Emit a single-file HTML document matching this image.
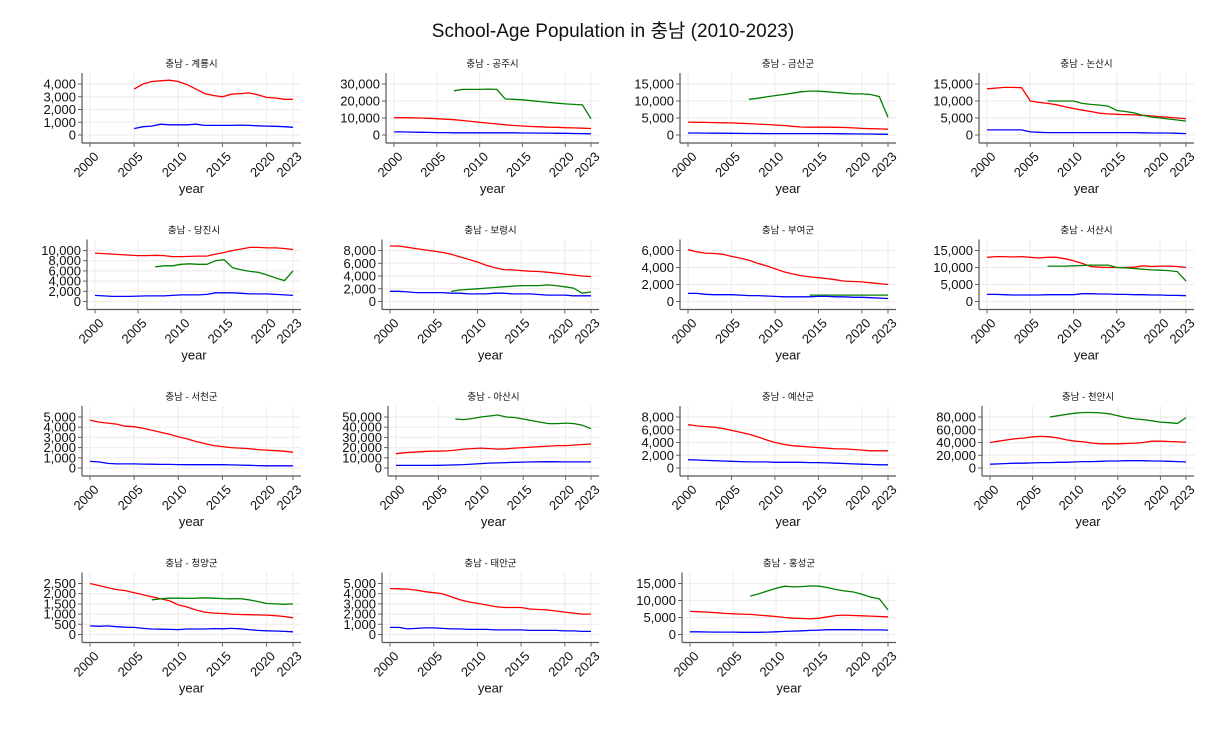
<!DOCTYPE html>
<html><head><meta charset="utf-8">
<style>
body{margin:0;background:#fff;}
svg text{font-family:"Liberation Sans","Noto Sans CJK KR",sans-serif;fill:#111;}
</style></head>
<body>
<svg id="chart" width="1226" height="726" xmlns="http://www.w3.org/2000/svg">
<text x="613" y="37" text-anchor="middle" font-size="19">School-Age Population in 충남 (2010-2023)</text>
</svg>
<script>
const years = [2000,2001,2002,2003,2004,2005,2006,2007,2008,2009,2010,2011,2012,2013,2014,2015,2016,2017,2018,2019,2020,2021,2022,2023];
const xTickLabels = [2000,2005,2010,2015,2020,2023];
const panelNames = ["계룡시","공주시","금산군","논산시","당진시","보령시","부여군","서산시","서천군","아산시","예산군","천안시","청양군","태안군","홍성군"];
const yTickMax = [4000,30000,15000,15000,10000,8000,6000,15000,5000,50000,8000,80000,2500,5000,15000];
const yTickStep = [1000,10000,5000,5000,2000,2000,2000,5000,1000,10000,2000,20000,500,1000,5000];
const redStart = [2005,2000,2000,2000,2000,2000,2000,2000,2000,2000,2000,2000,2000,2000,2000];
const blueStart = [2005,2000,2000,2000,2000,2000,2000,2000,2000,2000,2000,2000,2000,2000,2000];
const greenStart = [null,2007,2007,2007,2007,2007,2014,2007,null,2007,null,2007,2007,null,2007];
const redValues = [
[3600,4000,4200,4250,4300,4200,3950,3600,3250,3100,3000,3200,3250,3300,3150,2950,2900,2800,2800],
[10200,10200,10100,10000,9800,9600,9300,9000,8500,8000,7500,7000,6500,6000,5600,5300,5000,4800,4600,4500,4300,4200,4000,3800],
[3800,3750,3700,3650,3600,3550,3450,3350,3200,3100,2950,2800,2550,2350,2300,2300,2300,2250,2200,2100,1950,1850,1800,1700],
[13600,13800,14000,14000,13900,10000,9600,9300,8900,8300,7800,7300,6900,6400,6200,6100,6000,5900,5800,5600,5400,5200,5000,4800],
[9500,9400,9300,9200,9100,9000,9000,9050,9000,8800,8800,8850,8900,8900,9300,9600,10000,10300,10600,10600,10500,10500,10400,10200],
[8700,8700,8500,8300,8100,7900,7700,7400,7000,6600,6200,5700,5300,5000,4950,4850,4750,4700,4600,4450,4300,4150,4000,3900],
[6100,5850,5700,5650,5550,5300,5100,4850,4500,4200,3850,3500,3250,3050,2900,2800,2700,2550,2400,2350,2300,2200,2100,2000],
[13000,13200,13200,13100,13200,13000,12800,13000,13000,12600,12000,11200,10300,10100,10000,10000,10000,10100,10500,10300,10400,10400,10300,10000],
[4700,4500,4400,4300,4100,4050,3900,3700,3500,3300,3050,2850,2600,2400,2200,2100,2000,1950,1900,1800,1750,1700,1650,1550],
[14000,15000,15500,16000,16500,16500,16800,17500,18500,19000,19500,19000,18500,18800,19500,20000,20500,21000,21500,22000,22000,22500,23000,23500],
[6800,6600,6500,6400,6200,5900,5600,5300,4900,4400,4000,3700,3500,3400,3300,3200,3100,3000,3000,2900,2800,2700,2700,2700],
[40000,42000,44000,46000,47000,49000,49500,49000,47000,44000,42000,41000,39000,38000,38000,38000,38500,39000,40000,42000,42000,41500,41000,40500],
[2500,2400,2300,2200,2150,2050,1950,1850,1750,1650,1450,1350,1200,1100,1050,1030,1000,980,970,960,950,920,880,820],
[4500,4480,4450,4350,4200,4100,4000,3700,3400,3200,3050,2900,2750,2650,2650,2650,2500,2450,2400,2300,2200,2100,2000,2000],
[6800,6700,6600,6400,6200,6100,6000,5900,5700,5500,5300,5000,4800,4700,4600,4800,5200,5600,5700,5600,5500,5400,5300,5200]
];
const blueValues = [
[500,650,700,850,800,800,800,850,750,750,750,750,780,750,720,700,680,650,600],
[1800,1800,1700,1600,1500,1400,1400,1300,1300,1300,1300,1300,1300,1300,1300,1200,1200,1100,1100,1000,1000,900,800,700],
[600,580,560,540,520,500,480,450,430,420,400,400,400,400,400,400,400,380,350,330,300,280,250,200],
[1500,1500,1500,1500,1500,900,800,700,700,700,700,700,700,700,700,700,700,700,650,600,600,600,500,400],
[1200,1100,1000,1000,1000,1050,1100,1100,1100,1200,1300,1300,1300,1400,1700,1700,1700,1600,1500,1500,1500,1400,1300,1200],
[1600,1600,1500,1400,1400,1400,1400,1300,1300,1200,1200,1200,1300,1300,1200,1200,1200,1100,1000,1000,1000,900,900,900],
[950,950,850,800,800,800,750,700,700,650,600,550,550,550,550,600,600,550,550,500,500,450,400,350],
[2100,2100,2000,1900,1900,1900,1900,2000,2000,2000,2000,2300,2300,2200,2200,2100,2100,2000,2000,1900,1900,1800,1800,1700],
[650,600,450,400,400,400,380,370,350,350,330,320,320,320,320,320,300,280,260,240,220,220,220,220],
[2500,2500,2500,2500,2500,2600,2800,3000,3300,3800,4300,4800,5000,5300,5600,5800,6000,6100,6200,6100,6000,6000,6000,6000],
[1300,1250,1200,1150,1100,1050,1000,950,950,950,900,900,900,900,850,850,800,750,700,650,600,550,500,500],
[6000,6500,7000,7500,7500,8000,8500,8500,9000,9000,9500,10000,10000,10500,11000,11000,11500,11500,11500,11000,11000,10500,10000,9500],
[420,400,420,380,360,350,300,270,260,250,240,270,270,270,290,280,300,280,240,200,180,170,150,130],
[700,700,550,600,650,650,600,550,550,500,500,500,450,450,450,450,400,400,400,400,350,350,300,300],
[800,800,750,700,700,700,650,650,650,700,800,900,1000,1100,1200,1300,1400,1400,1400,1400,1350,1350,1350,1300]
];
const greenValues = [
[],
[26000,26800,26800,26800,27000,26800,21200,21000,20700,20200,19700,19200,18700,18300,18000,17700,9500],
[10500,10800,11200,11600,11900,12300,12700,12900,12900,12700,12500,12300,12100,12100,11900,11300,5200],
[10000,10000,10000,10000,9300,9000,8800,8500,7200,6900,6500,5800,5300,5000,4700,4400,4100],
[6800,7000,7000,7300,7400,7300,7300,8000,8200,6600,6200,5900,5700,5200,4600,4100,6000],
[1600,1800,1900,2000,2100,2200,2300,2400,2500,2500,2500,2600,2500,2300,2100,1300,1500],
[750,750,750,750,750,750,750,750,750,750],
[10400,10400,10400,10500,10600,10700,10700,10700,10000,9900,9700,9500,9300,9200,9100,8800,6000],
[],
[48000,47500,48500,50000,51000,52000,50000,49500,48000,46500,45000,43500,43500,44000,43500,42000,38500],
[],
[80000,82000,84000,86000,87000,87000,86500,85000,82000,79000,77000,76000,74000,72000,71000,70000,79000],
[1700,1750,1780,1780,1770,1780,1800,1780,1760,1750,1760,1700,1620,1520,1500,1480,1500],
[],
[11300,12000,12800,13600,14200,14000,14100,14300,14200,13800,13200,12800,12500,11800,11000,10500,7200]
];

const svg = document.getElementById('chart');
const NS = 'http://www.w3.org/2000/svg';
const rowBottoms = [143,309.5,476,642.5];
const colRight = [293,591,888,1186];
const leftByPanel = [90,394,688,987, 95,390,688,987, 90,396,688,990, 90,390,690];
function mk(tag, attrs, parent){
  const e = document.createElementNS(NS, tag);
  for (const k in attrs) e.setAttribute(k, attrs[k]);
  (parent||svg).appendChild(e);
  return e;
}
panelNames.forEach((name, i) => {
  const r = Math.floor(i/4), c = i%4;
  const bottom = rowBottoms[r];
  const x0 = leftByPanel[i], x1 = colRight[c];
  const y0 = bottom - 8, yTop = bottom - 59;
  const top = bottom - 70;
  const xs = y => x0 + (y - 2000) * (x1 - x0) / 23;
  const ys = v => y0 - v * (y0 - yTop) / yTickMax[i];
  const g = mk('g', {});
  
  
  // grid
  for (const t of xTickLabels) {
    const l = mk('line', {x1: xs(t), x2: xs(t), y1: top, y2: bottom, stroke: '#eeeeee', 'stroke-width': 1.2}, g);
    
    
  }
  for (let v = 0; v <= yTickMax[i]; v += yTickStep[i]) {
    const l = mk('line', {x1: x0 - 8, x2: x1 + 8, y1: ys(v), y2: ys(v), stroke: '#eeeeee', 'stroke-width': 1.2}, g);
    
    
    const tk = mk('line', {x1: x0 - 12, x2: x0 - 8, y1: ys(v), y2: ys(v), stroke: '#666'}, g);
    
    
    const tl = mk('text', {x: x0 - 14, y: ys(v) + 4.5, 'text-anchor': 'end', 'font-size': 13}, g);
    tl.textContent = v.toLocaleString('en-US');
    
    
  }
  // axes
  const ya = mk('line', {x1: x0 - 8, x2: x0 - 8, y1: top, y2: bottom, stroke: '#555', 'stroke-width': 1.2}, g);
  
  
  const xa = mk('line', {x1: x0 - 8, x2: x1 + 8, y1: bottom, y2: bottom, stroke: '#555', 'stroke-width': 1.2}, g);
  
  
  for (const t of xTickLabels) {
    const tk = mk('line', {x1: xs(t), x2: xs(t), y1: bottom, y2: bottom + 4, stroke: '#666'}, g);
    
    
    const tx = xs(t) + 3, ty = bottom + 8;
    const tl = mk('text', {x: tx, y: ty, 'text-anchor': 'end', 'font-size': 13, transform: 'rotate(-45 ' + tx + ' ' + ty + ')', dy: '0.7em'}, g);
    tl.textContent = t;
    
    
  }
  const xt = mk('text', {x: (x0 + x1) / 2, y: bottom + 50, 'text-anchor': 'middle', 'font-size': 13}, g);
  xt.textContent = 'year';
  
  
  const pt = mk('text', {x: (x0 + x1) / 2, y: bottom - 76, 'text-anchor': 'middle', 'font-size': 9.5}, g);
  pt.textContent = '충남 - ' + name;
  
  
  // series
  const series = [[redValues[i], redStart[i], '#ff0000', 'red-series-line'], [greenValues[i], greenStart[i], '#008000', 'green-series-line'], [blueValues[i], blueStart[i], '#0000ff', 'blue-series-line']];
  for (const [vals, start, col, nm] of series) {
    if (!vals.length || start === null) continue;
    const d = vals.map((v, k) => (k ? 'L' : 'M') + xs(start + k).toFixed(1) + ' ' + ys(v).toFixed(1)).join(' ');
    const p = mk('path', {d: d, fill: 'none', stroke: col, 'stroke-width': 1.3}, g);
    
    
  }
});
</script>
</body></html>
